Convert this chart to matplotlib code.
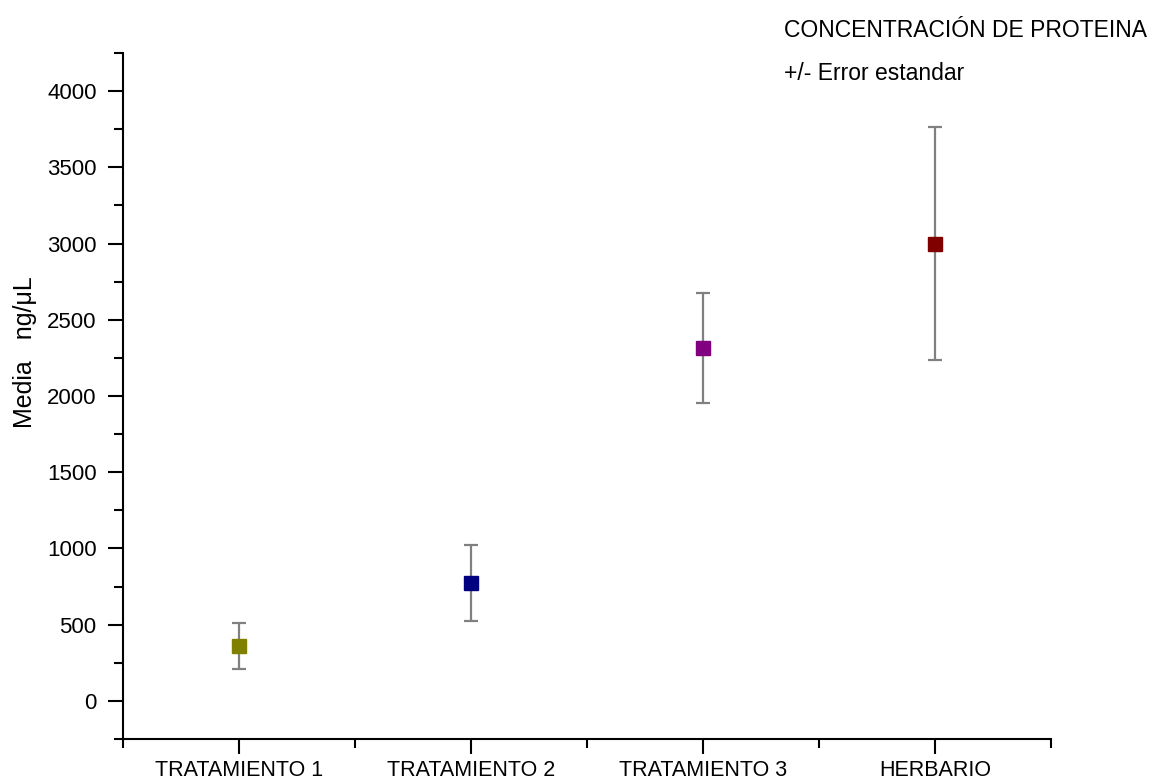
import matplotlib
matplotlib.use("Agg")
import matplotlib.pyplot as plt
from matplotlib.ticker import MultipleLocator, FixedLocator

categories = ["TRATAMIENTO 1", "TRATAMIENTO 2", "TRATAMIENTO 3", "HERBARIO"]
means = [362, 772, 2314, 3000]
errors = [151, 250, 363, 762]
colors = ["#808000", "#000080", "#800080", "#800000"]

plt.rcParams['font.family'] = ['Liberation Sans', 'DejaVu Sans']

fig = plt.figure(figsize=(11.53, 7.83), dpi=100)
ax = fig.add_axes([0.1067, 0.0562, 0.8048, 0.8761])

xs = list(range(1, len(categories) + 1))
for x, m, e, c in zip(xs, means, errors, colors):
    ax.errorbar(x, m, yerr=e, fmt='none', ecolor='#808080', elinewidth=1.6,
                capsize=5, capthick=1.6, zorder=2)
    ax.plot(x, m, marker='s', markersize=10, color=c, linestyle='none', zorder=3)

ax.set_xlim(0.5, 4.5)
ax.set_ylim(-250, 4250)
ax.xaxis.set_major_locator(FixedLocator(xs))
ax.xaxis.set_minor_locator(FixedLocator([0.5, 1.5, 2.5, 3.5, 4.5]))
ax.set_xticklabels(categories)
ax.yaxis.set_major_locator(MultipleLocator(500))
ax.yaxis.set_minor_locator(MultipleLocator(250))

for s in ['top', 'right']:
    ax.spines[s].set_visible(False)
for s in ['left', 'bottom']:
    ax.spines[s].set_linewidth(1.5)

ax.tick_params(axis='both', which='major', length=11, width=1.5, labelsize=16, direction='out')
ax.tick_params(axis='both', which='minor', length=6.5, width=1.5, direction='out')
ax.tick_params(axis='y', which='major', pad=8)
ax.tick_params(axis='x', which='major', pad=4, labelsize=15.5)

fig.text(0.0217, 0.5505, "Media   ng/μL", fontsize=18, rotation=90, ha='center', va='center')

fig.text(0.68, 0.961, "CONCENTRACIÓN DE PROTEINA", fontsize=16.5, ha='left', va='center')
fig.text(0.68, 0.906, "+/- Error estandar", fontsize=16.5, ha='left', va='center')

fig.savefig("out.png", dpi=100)
